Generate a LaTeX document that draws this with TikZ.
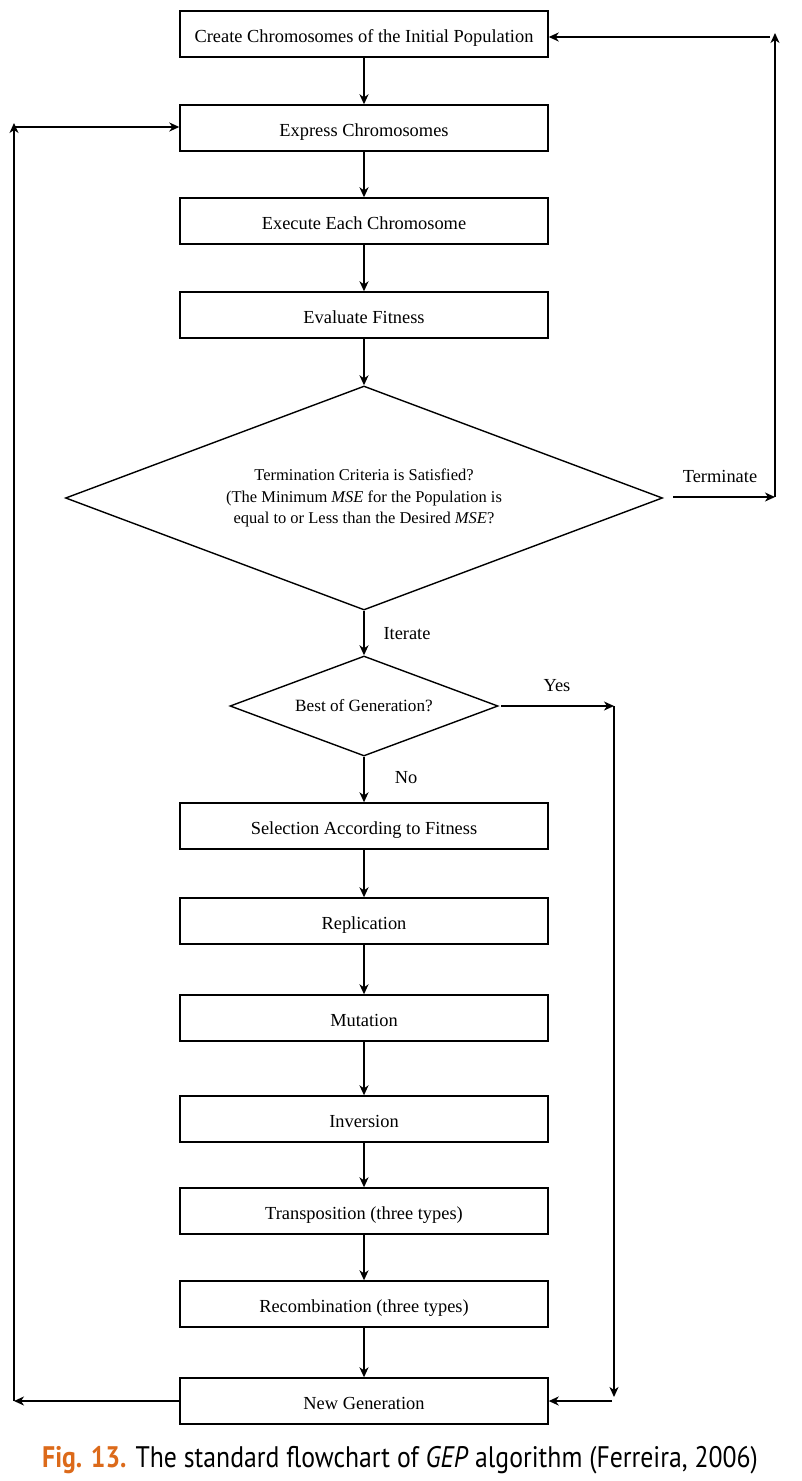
\documentclass[tikz,border=0pt]{standalone}
\usepackage{fontspec}
\setmainfont{Liberation Serif}
\newfontfamily\capfont{PT Sans}
\usetikzlibrary{shapes.geometric,arrows.meta}
\definecolor{figorange}{HTML}{DC6A1A}
\begin{document}
\begin{tikzpicture}[x=1pt,y=-1pt,
  every node/.style={font=\fontsize{18.4}{22}\selectfont},
  stepbox/.style={draw,line width=1.4pt,minimum width=368pt,minimum height=46pt,inner sep=0pt,anchor=center,text height=20pt,text depth=4pt},
  decision/.style={draw,line width=1.4pt,diamond,inner sep=0pt,align=center},
  arr/.style={line width=1.6pt,-{Stealth[length=10pt,width=9pt,inset=3pt]}},
  lbl/.style={inner sep=0pt}]
\useasboundingbox (0,0) rectangle (802,1481);
\node[stepbox] (b1) at (364,34) {Create Chromosomes of the Initial Population};
\node[stepbox] (b2) at (364,128) {Express Chromosomes};
\node[stepbox] (b3) at (364,221) {Execute Each Chromosome};
\node[stepbox] (b4) at (364,315) {Evaluate Fitness};
\node[decision,aspect=2.665,minimum width=597pt,minimum height=224pt,font=\fontsize{16.5}{21.5}\selectfont] (d1) at (364,498) {Termination Criteria is Satisfied?\\(The Minimum \textit{MSE} for the Population is\\equal to or Less than the Desired \textit{MSE}?};
\node[decision,aspect=2.68,minimum width=268pt,minimum height=100pt,font=\fontsize{17.2}{21}\selectfont] (d2) at (364,706) {Best of Generation?};
\node[stepbox] (b5) at (364,826) {Selection According to Fitness};
\node[stepbox] (b6) at (364,921) {Replication};
\node[stepbox] (b7) at (364,1018) {Mutation};
\node[stepbox] (b8) at (364,1119) {Inversion};
\node[stepbox] (b9) at (364,1211) {Transposition (three types)};
\node[stepbox] (b10) at (364,1304) {Recombination (three types)};
\node[stepbox] (b11) at (364,1401) {New Generation};

\coordinate (tR) at (775,497);
\coordinate (tTop) at (775,33);
\coordinate (tH) at (770,37);
\coordinate (tS) at (673,497);
\coordinate (lB) at (14,1401);
\coordinate (lT) at (14,123);
\coordinate (lH) at (14,127);
\coordinate (yS) at (501,706);
\coordinate (yR) at (614,706);
\coordinate (yB) at (614,1397);
\coordinate (yH) at (612,1401);

\draw[arr] (b1) -- (b2);
\draw[arr] (b2) -- (b3);
\draw[arr] (b3) -- (b4);
\draw[arr] (b4.south) -- (d1.north);
\draw[arr] (d1.south) -- (d2.north);
\draw[arr] (d2.south) -- (b5.north);
\draw[arr] (b5) -- (b6);
\draw[arr] (b6) -- (b7);
\draw[arr] (b7) -- (b8);
\draw[arr] (b8) -- (b9);
\draw[arr] (b9) -- (b10);
\draw[arr] (b10) -- (b11);

\draw[arr] (tS) -- (tR);
\draw[arr] (tR) -- (tTop);
\draw[arr] (tH) -- (tH -| b1.east);

\draw[arr] (b11.west) -- (lB);
\draw[arr] (lB) -- (lT);
\draw[arr] (lH) -- (lH -| b2.west);

\draw[arr] (yS) -- (yR);
\draw[arr] (yR) -- (yB);
\draw[arr] (yH) -- (b11.east);

\node[lbl] (tl) at (720,476) {Terminate};
\node[lbl] (il) at (407,634) {Iterate};
\node[lbl] (yl) at (557,686) {Yes};
\node[lbl] (nl) at (406,778) {No};

\node[inner sep=0pt,font=\capfont\fontsize{27}{30}\selectfont] (cap) at (400,1460)
  {\scalebox{0.953}[1.1]{\textcolor{figorange}{\bfseries Fig. 13.} The standard flowchart of \textit{GEP} algorithm (Ferreira, 2006)}};
\end{tikzpicture}
\end{document}
